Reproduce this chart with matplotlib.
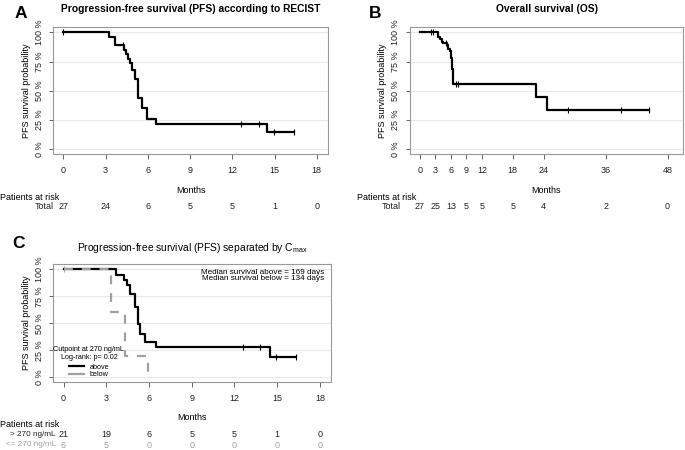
import numpy as np
import matplotlib
matplotlib.use('Agg')
import matplotlib.pyplot as plt
from matplotlib.transforms import blended_transform_factory
from matplotlib.lines import Line2D

plt.rcParams['font.family'] = ['Liberation Sans', 'DejaVu Sans']

# Panel A: PFS according to RECIST
pfs_t = [3.27, 3.65, 4.32, 4.46, 4.58, 4.70, 4.85, 5.09, 5.28, 5.57, 5.95, 6.55, 14.5]
pfs_s = [0.963, 0.889, 0.850, 0.812, 0.773, 0.734, 0.68, 0.60, 0.44, 0.35, 0.26, 0.217, 0.145]
pfs_end = 16.38
pfs_cens = [0, 4.22, 12.64, 13.89, 14.96, 16.38]
pfs_ticks = [0, 3, 6, 9, 12, 15, 18]
pfs_risk = [27, 24, 6, 5, 5, 1, 0]

# Panel B: overall survival
os_t = [3.56, 3.9, 4.2, 4.5, 5.2, 5.5, 5.85, 6.05, 6.3, 6.47, 22.4, 24.6]
os_s = [0.963, 0.94, 0.92, 0.91, 0.89, 0.86, 0.84, 0.78, 0.69, 0.56, 0.45, 0.336]
os_end = 44.5
os_cens = [2.1, 2.5, 5.0, 6.9, 7.3, 28.7, 39.0, 44.5]
os_ticks = [0, 3, 6, 9, 12, 18, 24, 36, 48]
os_risk = [27, 25, 13, 5, 5, 5, 4, 2, 0]

# Panel C: PFS separated by Cmax
above_t = [3.67, 4.27, 4.45, 4.69, 5.0, 5.21, 5.40, 5.69, 6.52, 14.5]
above_s = [0.951, 0.898, 0.852, 0.775, 0.655, 0.497, 0.404, 0.327, 0.28, 0.19]
above_end = 16.35
above_cens = [12.6, 13.8, 14.9, 16.35]
below_t = [3.32, 4.29, 5.92]
below_s = [0.6, 0.2, 0.0]
below_end = 5.92
below_cens = [0]
c_ticks = [0, 3, 6, 9, 12, 15, 18]
above_risk = [21, 19, 6, 5, 5, 1, 0]
below_risk = [6, 5, 0, 0, 0, 0, 0]

W, H = 685, 450
GRAY = '#a0a0a0'
FS = 6.5


def fy(ypix):
    return 1 - ypix / H


def km(ax, t, s, end, cens, **kw):
    x = [0] + list(t) + [end]
    y = [1.0] + list(s) + [s[-1]]
    ax.step(x, y, where='post', **kw)
    cy = [1.0 if c < t[0] else s[np.searchsorted(t, c, side='right') - 1] for c in cens]
    ax.plot(cens, cy, ls='none', marker='|', ms=5, mew=0.8, color=kw.get('color', 'k'))


def setup(ax, ticks, xlim, ylim):
    ax.set_xlim(*xlim)
    ax.set_ylim(*ylim)
    ax.set_xticks(ticks)
    ax.set_yticks([0, 0.25, 0.5, 0.75, 1.0])
    ax.set_yticklabels(['0 %', '25 %', '50 %', '75 %', '100 %'], rotation=90, va='center')
    for v in [0, 0.25, 0.5, 0.75, 1.0]:
        ax.axhline(v, color='#e8e8e8', lw=0.8, zorder=0)
    for sp in ax.spines.values():
        sp.set_color('#999999')
        sp.set_linewidth(0.8)
    ax.tick_params(axis='x', length=3.6, width=0.7, color='#666666', pad=5, labelsize=FS, labelcolor='#222222')
    ax.tick_params(axis='y', length=2.9, width=0.7, color='#666666', pad=4, labelsize=FS, labelcolor='#222222')


def risk(fig, ax, ticks, rows, labels, colors, y_months, y_head, y_rows, x_head, x_lab, lab_fs=FS):
    tr = blended_transform_factory(ax.transData, fig.transFigure)
    ax.text(np.mean(ax.get_xlim()), fy(y_months), 'Months', transform=tr, ha='center', va='center', fontsize=FS)
    fig.text(x_head / W, fy(y_head), 'Patients at risk', ha='left', va='center', fontsize=FS)
    for vals, lab, col, yr in zip(rows, labels, colors, y_rows):
        fig.text(x_lab / W, fy(yr), lab, ha='right', va='center', fontsize=lab_fs, color=col)
        for tk, v in zip(ticks, vals):
            ax.text(tk, fy(yr), str(v), transform=tr, ha='center', va='center', fontsize=FS, color=col)


fig = plt.figure(figsize=(W / 100, H / 100), dpi=100)

# A
axA = fig.add_axes([53.3 / W, fy(154), 274.7 / W, 127 / H])
km(axA, pfs_t, pfs_s, pfs_end, pfs_cens, color='k', lw=1.6)
setup(axA, pfs_ticks, (-0.72, 18.8), (-0.04, 1.045))
axA.set_ylabel('PFS survival probability', fontsize=FS, labelpad=3)
axA.set_title('Progression-free survival (PFS) according to RECIST', fontsize=7.4, fontweight='bold', pad=11)
fig.text(15 / W, fy(13), 'A', fontsize=12.5, fontweight='bold', va='center')
risk(fig, axA, pfs_ticks, [pfs_risk], ['Total'], ['#222222'], 190.5, 197.3, [207], 0, 54)

# B
axB = fig.add_axes([410 / W, fy(154), 273 / W, 127 / H])
km(axB, os_t, os_s, os_end, os_cens, color='k', lw=1.6)
setup(axB, os_ticks, (-1.94, 51), (-0.04, 1.045))
axB.set_ylabel('PFS survival probability', fontsize=FS, labelpad=3)
axB.set_title('Overall survival (OS)', fontsize=7.4, fontweight='bold', pad=11)
fig.text(369 / W, fy(13), 'B', fontsize=12.5, fontweight='bold', va='center')
risk(fig, axB, os_ticks, [os_risk], ['Total'], ['#222222'], 190.5, 197.3, [207], 357, 401)

# C
axC = fig.add_axes([53.3 / W, fy(381.6), 278 / W, 117.7 / H])
km(axC, above_t, above_s, above_end, above_cens, color='k', lw=1.6)
km(axC, below_t, below_s, below_end, below_cens, color=GRAY, lw=1.6, dashes=(4, 4))
setup(axC, c_ticks, (-0.72, 18.8), (-0.04, 1.05))
axC.set_ylabel('PFS survival probability', fontsize=FS, labelpad=3)
axC.set_title('Progression-free survival (PFS) separated by C$_{\\mathregular{max}}$', fontsize=7.4, pad=9)
fig.text(12 / W, fy(243), 'C', fontsize=12.5, fontweight='bold', va='center')
axC.text(0.975, 0.93, 'Median survival above = 169 days', transform=axC.transAxes, ha='right', va='center', fontsize=5.9)
axC.text(0.975, 0.872, 'Median survival below = 134 days', transform=axC.transAxes, ha='right', va='center', fontsize=5.9)
axC.text(0.125, 0.275, 'Cutpoint at 270 ng/mL', transform=axC.transAxes, ha='center', va='center', fontsize=5.2)
axC.text(0.13, 0.205, 'Log-rank: p= 0.02', transform=axC.transAxes, ha='center', va='center', fontsize=5.2)
handles = [Line2D([], [], color='k', lw=1.6), Line2D([], [], color=GRAY, lw=1.6)]
axC.legend(handles, ['above', 'below'], loc='lower left', bbox_to_anchor=(0.04, -0.015), frameon=False,
           fontsize=5.2, handlelength=2.0, handletextpad=0.8, labelspacing=0.1, borderpad=0.2)
risk(fig, axC, c_ticks, [above_risk, below_risk], ['> 270 ng/mL', '<= 270 ng/mL'], ['#222222', GRAY],
     417.3, 424.3, [434.7, 445], 0, 56, lab_fs=5.9)

fig.savefig('out.png', dpi=100)
